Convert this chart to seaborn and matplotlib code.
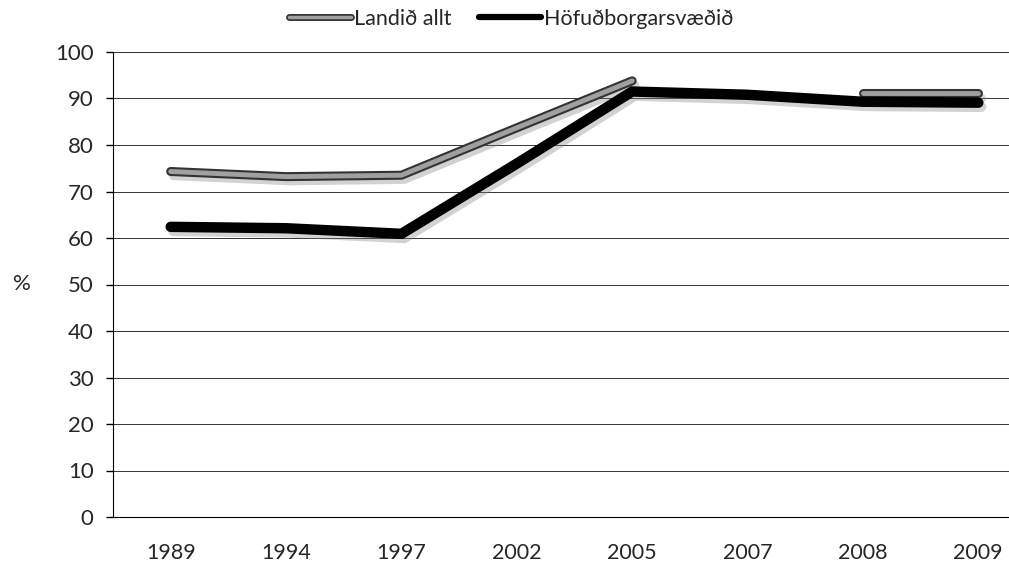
import numpy as np
import pandas as pd
import matplotlib
matplotlib.use("Agg")
import matplotlib.pyplot as plt
import matplotlib.patheffects as pe
from matplotlib.lines import Line2D
import seaborn as sns

## Data
years = ["1989", "1994", "1997", "2002", "2005", "2007", "2008", "2009"]
landid = [74.3, 73.2, 73.5, 83.7, 93.8, np.nan, 91.1, 91.1]
hofud = [62.4, 62.1, 60.9, 76.0, 91.5, 90.8, 89.3, 89.1]
names = ["Landið allt", "Höfuðborgarsvæðið"]

df = pd.DataFrame({"pos": range(len(years)), "year": years,
                   "landid": landid, "hofud": hofud})
# split grey series into segments where values are missing
df["seg"] = df["landid"].isna().cumsum()

sns.set_style("white")
plt.rcParams["font.family"] = ["Lato", "DejaVu Sans"]

fig = plt.figure(figsize=(10.09, 5.74), dpi=100)
ax = fig.add_axes([113 / 1009, 57 / 574, 923 / 1009, 465 / 574])

shadow = pe.SimpleLineShadow(offset=(2, -3), shadow_color="gray", alpha=0.35)
grey_fx = [shadow, pe.Stroke(linewidth=6.5, foreground="#333333"),
           pe.Stroke(linewidth=3.5, foreground="#a0a0a0")]
black_fx = [pe.SimpleLineShadow(offset=(2, -3), shadow_color="gray", alpha=0.35),
            pe.Normal()]

grey = df.dropna(subset=["landid"])
sns.lineplot(data=grey, x="pos", y="landid", units="seg", estimator=None,
             color="#a0a0a0", lw=6.5, ax=ax, path_effects=grey_fx,
             solid_capstyle="round")
sns.lineplot(data=df, x="pos", y="hofud", color="black", lw=7.5, ax=ax,
             path_effects=black_fx, solid_joinstyle="miter")

ax.set_xlim(-0.5, len(years) - 0.5)
ax.set_ylim(0, 100)
ax.set_yticks(range(0, 101, 10))
ax.set_xticks(range(len(years)))
ax.set_xticklabels(years, fontsize=15.5)
ax.set_xticks(np.arange(-0.5, len(years), 1), minor=True)
ax.tick_params(axis="x", which="major", length=0, pad=19)
ax.tick_params(axis="x", which="minor", length=8, width=1, color="black",
               direction="out")
ax.tick_params(axis="y", length=5, width=1, color="black", labelsize=16,
               pad=9, left=True)
ax.yaxis.grid(True, color="#333333", lw=0.7)
ax.set_axisbelow(True)
for s in ["top", "right"]:
    ax.spines[s].set_visible(False)
ax.spines["left"].set_color("black")
ax.spines["bottom"].set_color("black")
ax.set_xlabel("")
ax.set_ylabel("%", rotation=0, fontsize=16, labelpad=0)
ax.yaxis.set_label_coords(-91 / 923, 0.48)

handles = [
    Line2D([], [], color="#a0a0a0", lw=4, path_effects=[
        pe.Stroke(linewidth=5, foreground="#333333"),
        pe.Stroke(linewidth=2.5, foreground="#a0a0a0")]),
    Line2D([], [], color="black", lw=4.5),
]
fig.legend(handles, names, loc="center", bbox_to_anchor=(511 / 1009, 1 - 19 / 574),
           ncol=2, frameon=False, fontsize=15.5, handlelength=2.9,
           handletextpad=0.1, columnspacing=1.3)

fig.savefig("out.png", dpi=100)
